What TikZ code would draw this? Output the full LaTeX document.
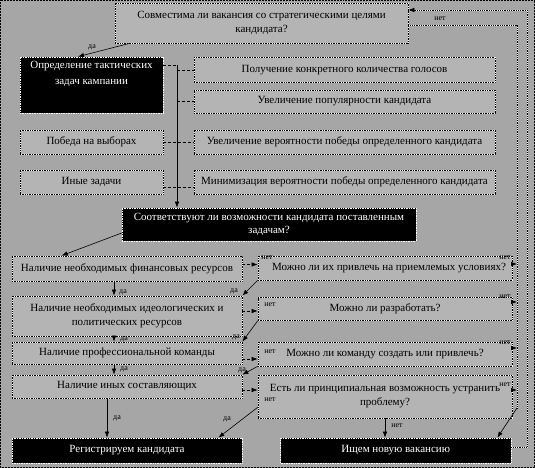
\documentclass[tikz,border=0pt]{standalone}
\usepackage{fontspec}
\setmainfont{Liberation Serif}
\usetikzlibrary{arrows.meta}
\definecolor{bg}{HTML}{A6A6A6}
\definecolor{boxc}{HTML}{B4B4B4}
\begin{document}
\begin{tikzpicture}[x=1pt,y=-1pt,
  font=\fontsize{11}{14}\selectfont,
  box/.style={draw=white, fill=boxc, line width=0.7pt,
    postaction={draw=black, densely dotted, line width=0.7pt},
    inner sep=1pt, align=center},
  bbox/.style={draw=white, fill=black, text=white, line width=0.7pt,
    densely dotted, inner sep=1pt, align=center},
  conn/.style={draw=black, line width=0.6pt},
  dconn/.style={draw=black, line width=0.6pt, densely dashed},
  arr/.style={-{Latex[length=6pt,width=4.5pt]}},
  wconn/.style={draw=white, line width=0.8pt,
    postaction={draw=black, densely dotted, line width=0.8pt}},
  lab/.style={font=\fontsize{8}{9}\selectfont, inner sep=0.5pt}
]
\fill[bg] (0,0) rectangle (535,468);
\useasboundingbox (0,0) rectangle (535,468);
\draw[black, densely dotted, line width=0.5pt] (0.5,0.5) rectangle (534.5,467.5);

% top question
\node[box, minimum width=293pt, minimum height=40pt] (q1) at (261.5,23)
  {Совместима ли вакансия со стратегическими целями\\кандидата?};

% tactical tasks
\node[bbox, minimum width=143pt, minimum height=56pt] (t2) at (91.5,85) {};
\node[text=white, align=center, anchor=north, inner sep=0pt,
  font=\fontsize{11}{16}\selectfont] (t2t) at ([yshift=-4pt]t2.north)
  {Определение тактических\\задач кампании};

\node[box, minimum width=301pt, minimum height=24.5pt] (g1) at (344.5,70)
  {Получение конкретного количества голосов};
\node[box, minimum width=301pt, minimum height=23pt] (g2) at (344.5,101.5)
  {Увеличение популярности кандидата};
\node[box, minimum width=143pt, minimum height=24pt] (p) at (91.5,142)
  {Победа на выборах};
\node[box, minimum width=301pt, minimum height=24pt] (g3) at (344.5,142)
  {Увеличение вероятности победы определенного кандидата};
\node[box, minimum width=143pt, minimum height=24pt] (o) at (91.5,182)
  {Иные задачи};
\node[box, minimum width=301pt, minimum height=24pt] (g4) at (344.5,182)
  {Минимизация вероятности победы определенного кандидата};

\node[bbox, minimum width=294pt, minimum height=33pt,
  font=\fontsize{11}{12.5}\selectfont] (t9) at (269,224.5)
  {Соответствуют ли возможности кандидата поставленным\\задачам?};

% left column
\node[box, minimum width=230pt, minimum height=25pt] (l1) at (127,268.5)
  {Наличие необходимых финансовых ресурсов};
\node[box, minimum width=230pt, minimum height=40pt] (l2) at (127,316)
  {Наличие необходимых идеологических и\\политических ресурсов};
\node[box, minimum width=230pt, minimum height=22pt] (l3) at (127,353)
  {Наличие профессиональной команды};
\node[box, minimum width=230pt, minimum height=23pt] (l4) at (127,386.5)
  {Наличие иных составляющих};

% right column
\node[box, minimum width=254pt, minimum height=24pt] (r1) at (385,268)
  {\hspace*{8pt}Можно ли их привлечь на приемлемых условиях?};
\node[box, minimum width=254pt, minimum height=23pt] (r2) at (385,309)
  {Можно ли разработать?};
\node[box, minimum width=254pt, minimum height=24pt] (r3) at (385,354)
  {Можно ли команду создать или привлечь?};
\node[box, minimum width=254pt, minimum height=43pt] (r4) at (385,396.5)
  {Есть ли принципиальная возможность устранить\\проблему?};

% bottom
\node[bbox, minimum width=230pt, minimum height=25pt] (reg) at (127,450.5)
  {Регистрируем кандидата};
\node[bbox, minimum width=230.5pt, minimum height=25pt] (new) at (395.75,450.5)
  {Ищем новую вакансию};

% connectors: top
\draw[conn, arr] ([xshift=15pt]q1.south west) -- ([xshift=-13.5pt]t2.north);
\node[lab] (ly0) at (92,47) {да};

% spine
\coordinate (sp) at (177,65);
\draw[dconn] (t2.east |- sp) -- (sp);
\draw[conn, arr] (sp) -- (sp |- t9.north);
\draw[dconn] (sp |- g1.west) -- (g1.west);
\draw[dconn] (sp |- g2.west) -- (g2.west);
\draw[dconn] (p.east) -- (g3.west);
\draw[dconn] ([yshift=-5pt]o.east) -- ([yshift=-5pt]g4.west);

% t9 -> l1
\draw[conn, arr] ([yshift=-8.5pt]t9.west) -- ([xshift=50pt]l1.north west);

% left -> right (нет)
\draw[dconn, arr] ([yshift=4pt]l1.east) -- ([yshift=4pt]l1.east -| r1.west);
\draw[dconn, arr] ([yshift=5pt]l2.east) -- ([yshift=5pt]l2.east -| r2.west);
\draw[dconn, arr] ([yshift=-6pt]l3.east) -- ([yshift=-6pt]l3.east -| r3.west);
\draw[dconn, arr] ([yshift=-3.5pt]l4.east) -- ([yshift=-3.5pt]l4.east -| r4.west);
\node[lab] (n1) at (267,258) {нет};
\node[lab] (n2) at (270,305) {нет};
\node[lab] (n3) at (270,352) {нет};
\node[lab] (n4) at (270,400) {нет};

% left down (да)
\draw[conn, arr] ([xshift=-13pt]l1.south) -- ([xshift=-13pt]l2.north);
\draw[conn, arr] ([xshift=-13pt]l2.south) -- ([xshift=-13pt]l3.north);
\draw[conn, arr] ([xshift=-13pt]l3.south) -- ([xshift=-13pt]l4.north);
\draw[conn, arr] ([xshift=-20pt]l4.south) -- ([xshift=-20pt]reg.north);
\node[lab] (y1) at (123,292) {да};
\node[lab] (y2) at (124,339) {да};
\node[lab] (y3) at (124,369) {да};
\node[lab] (y4) at (117,418) {да};

% right -> next left (да)
\draw[conn, arr] (r1.south west) -- (l2.north east);
\draw[conn, arr] (r2.south west) -- (l3.north east);
\draw[conn, arr] (r3.south west) -- (l4.north east);
\draw[conn, arr] ([yshift=11pt]r4.south west) -- ([xshift=-24pt]reg.north east);
\node[lab] (d1) at (234,291) {да};
\node[lab] (d2) at (236,337) {да};
\node[lab] (d3) at (242,370) {да};
\node[lab] (d4) at (227,419) {да};

% r4 -> new (нет)
\draw[conn, arr] (r4.south) -- (r4.south |- new.north);
\node[lab] (n5) at (397,426) {нет};

% right spine
\coordinate (rs) at (517,25);
\coordinate (rsb) at (517,408);
\draw[wconn] ([yshift=-2pt]q1.east) -- (rs) -- (rsb);
\draw[conn, arr] (rsb) -- ([xshift=-14pt]new.north east);
\node[lab] (n0) at (440,19) {нет};
\draw[conn, arr] ([yshift=4pt]r1.east) -- ([yshift=4pt]r1.east -| rs);
\draw[conn, arr] ([yshift=7pt]r2.east) -- ([yshift=7pt]r2.east -| rs);
\draw[conn, arr] ([yshift=6pt]r3.east) -- ([yshift=6pt]r3.east -| rs);
\draw[conn, arr] ([yshift=6.5pt]r4.east) -- ([yshift=6.5pt]r4.east -| rs);
\node[lab] (m1) at (505,258) {нет};
\node[lab] (m2) at (505,297) {нет};
\node[lab] (m3) at (505,343) {нет};
\node[lab] (m4) at (505,385) {нет};

% outer loop back to the top question
\coordinate (lp1) at (527,447);
\coordinate (lp2) at (527,10);
\draw[wconn] ([yshift=3.5pt]new.east) -- (lp1) -- (lp2) -- ([yshift=13pt]q1.east);
\draw[conn, arr] ([xshift=8pt,yshift=13pt]q1.east) -- ([yshift=13pt]q1.east);
\end{tikzpicture}
\end{document}
